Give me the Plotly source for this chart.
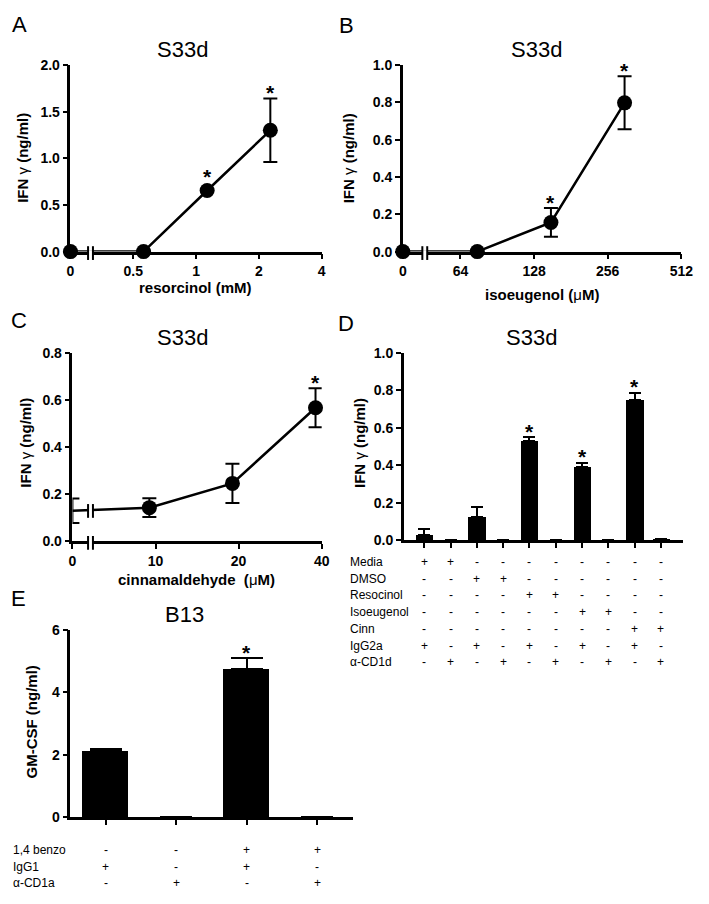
import math
import plotly.graph_objects as go

W, H = 709, 904
FONT = "Arial, 'Liberation Sans', Helvetica, sans-serif"

# ---------------- data ----------------
A_conc = [0, 0.56, 1.13, 2.27]          # resorcinol (mM)
A_ifn = [0.0, 0.0, 0.655, 1.30]
A_err = [0.0, 0.0, 0.0, 0.34]
A_sig = [False, False, True, True]

B_conc = [0, 75, 150, 300]              # isoeugenol (uM)
B_ifn = [0.0, 0.0, 0.156, 0.797]
B_err = [0.0, 0.0, 0.077, 0.142]
B_sig = [False, False, True, True]

C_conc = [0, 9.5, 19, 38]               # cinnamaldehyde (uM)
C_ifn = [0.130, 0.143, 0.246, 0.567]
C_err = [0.052, 0.040, 0.083, 0.083]
C_sig = [False, False, False, True]

D_ifn = [0.031, 0.0, 0.124, 0.0, 0.530, 0.0, 0.391, 0.0, 0.747, 0.005]
D_err = [0.028, 0.0, 0.056, 0.0, 0.021, 0.0, 0.024, 0.0, 0.040, 0.0]
D_sig = [False, False, False, False, True, False, True, False, True, False]
D_rows = ["Media", "DMSO", "Resocinol", "Isoeugenol", "Cinn", "IgG2a", "α-CD1d"]
D_table = [
    ["+", "+", "-", "-", "-", "-", "-", "-", "-", "-"],
    ["-", "-", "+", "+", "-", "-", "-", "-", "-", "-"],
    ["-", "-", "-", "-", "+", "+", "-", "-", "-", "-"],
    ["-", "-", "-", "-", "-", "-", "+", "+", "-", "-"],
    ["-", "-", "-", "-", "-", "-", "-", "-", "+", "+"],
    ["+", "-", "+", "-", "+", "-", "+", "-", "+", "-"],
    ["-", "+", "-", "+", "-", "+", "-", "+", "-", "+"],
]

E_gm = [2.12, 0.0, 4.75, 0.0]
E_err = [0.06, 0.0, 0.34, 0.0]
E_sig = [False, False, True, False]
E_rows = ["1,4 benzo", "IgG1", "α-CD1a"]
E_table = [
    ["-", "-", "+", "+"],
    ["+", "-", "+", "-"],
    ["-", "+", "-", "+"],
]

# display positions of the "0" dose on the broken log axes
A_ZERO, B_ZERO, C_ZERO = 0.25, 37.2, 5.0


def xp(px):
    return px / W


def yp(py):
    return 1 - py / H


def dom_x(l, r):
    return [xp(l), xp(r)]


def dom_y(top, bottom):
    return [yp(bottom), yp(top)]


def nz(errs):
    return [e if e > 0 else None for e in errs]


fig = go.Figure()

axis_style = dict(
    showline=True, linewidth=2.5, linecolor="black",
    ticks="outside", ticklen=5, tickwidth=2, tickcolor="black",
    showgrid=False, zeroline=False,
    tickfont=dict(family=FONT, size=14, color="black", weight="bold"),
)


def add_scatter(idx, conc, vals, errs, zero):
    xs = [zero if c == 0 else c for c in conc]
    fig.add_trace(go.Scatter(
        x=xs, y=vals, mode="lines+markers",
        line=dict(color="black", width=2.5),
        marker=dict(size=15, color="black"),
        error_y=dict(type="data", symmetric=False, array=nz(errs), arrayminus=nz(errs),
                     color="black", thickness=2, width=7),
        cliponaxis=False,
        xaxis="x" if idx == 1 else f"x{idx}",
        yaxis="y" if idx == 1 else f"y{idx}",
    ))
    return xs


def add_bars(idx, vals, errs, capw):
    xs = list(range(len(vals)))
    fig.add_trace(go.Bar(
        x=xs, y=vals, width=0.66,
        marker=dict(color="black", line=dict(width=0)),
        error_y=dict(type="data", symmetric=False, array=nz(errs),
                     arrayminus=[None] * len(vals),
                     color="black", thickness=2, width=capw),
        cliponaxis=False,
        xaxis=f"x{idx}", yaxis=f"y{idx}",
    ))
    return xs


xa = add_scatter(1, A_conc, A_ifn, A_err, A_ZERO)
xb = add_scatter(2, B_conc, B_ifn, B_err, B_ZERO)
xc = add_scatter(3, C_conc, C_ifn, C_err, C_ZERO)
xd = add_bars(4, D_ifn, D_err, 6)
xe = add_bars(5, E_gm, E_err, 16)

# geometry (px) of each plot area: left, right, top, bottom
geo = {
    1: (68, 325, 58, 248),
    2: (408, 693, 58, 248),
    3: (70, 325, 351, 543),
    4: (409, 695, 351, 542),
    5: (68, 357, 633, 824),
}
yr = {1: [0, 2], 2: [0, 1], 3: [0, 0.8], 4: [0, 1], 5: [0, 6]}
ydt = {1: 0.5, 2: 0.2, 3: 0.2, 4: 0.2, 5: 2}
yfmt = {1: ".1f", 2: ".1f", 3: ".1f", 4: ".1f", 5: "d"}

layout = dict(
    width=W, height=H, margin=dict(l=0, r=0, t=0, b=0),
    paper_bgcolor="white", plot_bgcolor="white", showlegend=False,
    bargap=0,
)
for i in range(1, 6):
    l, r, t, b = geo[i]
    xn = "xaxis" if i == 1 else f"xaxis{i}"
    yn = "yaxis" if i == 1 else f"yaxis{i}"
    xanchor = "y" if i == 1 else f"y{i}"
    yanchor = "x" if i == 1 else f"x{i}"
    layout[xn] = dict(axis_style, domain=dom_x(l, r), anchor=xanchor)
    layout[yn] = dict(axis_style, domain=dom_y(t, b), anchor=yanchor,
                      range=yr[i], dtick=ydt[i], tick0=0, tickformat=yfmt[i])

layout["xaxis"].update(type="log", range=[math.log10(A_ZERO), math.log10(4)],
                       tickvals=[A_ZERO, 0.5, 1, 2, 4],
                       ticktext=["0", "0.5", "1", "2", "4"])
layout["xaxis2"].update(type="log", range=[math.log10(B_ZERO), math.log10(512)],
                        tickvals=[B_ZERO, 64, 128, 256, 512],
                        ticktext=["0", "64", "128", "256", "512"])
layout["xaxis3"].update(type="log", range=[math.log10(C_ZERO), math.log10(40)],
                        tickvals=[C_ZERO, 10, 20, 40],
                        ticktext=["0", "10", "20", "40"])
layout["xaxis4"].update(range=[-0.78, 9.85], tickvals=xd, showticklabels=False)
layout["xaxis5"].update(range=[-0.5, 3.51], tickvals=xe, showticklabels=False)
fig.update_layout(**layout)

ann = []


def text(x, y, s, size, bold=False, xanchor="center", angle=0, weight="normal"):
    ann.append(dict(
        x=xp(x), y=yp(y), xref="paper", yref="paper", text=s, showarrow=False,
        xanchor=xanchor, yanchor="middle", textangle=angle,
        font=dict(family=FONT, size=size, color="black",
                  weight="bold" if bold else weight),
    ))


# panel letters
for lab, (x, y) in zip("ABCDE", [(16, 17), (350, 18), (15, 318), (350, 321), (15, 601)]):
    text(x, y, lab, 22)

# titles
text(183, 42, "S33d", 22)
text(545, 42, "S33d", 22)
text(183, 335, "S33d", 22)
text(540, 335, "S33d", 22)
text(185, 617, "B13", 22)

# axis titles
ylab = "<b>IFN </b>γ<b> (ng/ml)</b>"
text(19, 153, ylab, 15, angle=-90)
text(352, 153, ylab, 15, angle=-90)
text(22, 443, ylab, 15, angle=-90)
text(363, 443, ylab, 15, angle=-90)
text(28, 727, "<b>GM-CSF (ng/ml)</b>", 15, angle=-90)
text(196, 285, "<b>resorcinol (mM)</b>", 15)
text(551, 292, "<b>isoeugenol (</b>μ<b>M)</b>", 15)
text(197, 582, "<b>cinnamaldehyde\u00a0\u00a0(</b>μ<b>M)</b>", 15)


# significance asterisks
def stars(idx, xs, vals, errs, sig, logx, marker_r):
    l, r, t, b = geo[idx]
    ppu = (b - t) / (yr[idx][1] - yr[idx][0])
    for x, v, e, s in zip(xs, vals, errs, sig):
        if not s:
            continue
        above = max(e * ppu, marker_r)
        ann.append(dict(
            x=math.log10(x) if logx else x, y=v + e,
            xref="x" if idx == 1 else f"x{idx}",
            yref="y" if idx == 1 else f"y{idx}",
            text="<b>*</b>", showarrow=False, xanchor="center", yanchor="middle",
            yshift=above - e * ppu + 11 - 5,
            font=dict(family=FONT, size=21, color="black"),
        ))


stars(1, xa, A_ifn, A_err, A_sig, True, 7.5)
stars(2, xb, B_ifn, B_err, B_sig, True, 7.5)
stars(3, xc, C_ifn, C_err, C_sig, True, 7.5)
stars(4, xd, D_ifn, D_err, D_sig, False, 0)
stars(5, xe, E_gm, E_err, E_sig, False, 0)

# treatment tables
d_row_y = [564, 581, 598, 615, 632, 649, 666]
for name, row, y in zip(D_rows, D_table, d_row_y):
    text(352, y, name, 12, xanchor="left")
    for x, sym in zip(xd, row):
        ann.append(dict(x=x, y=yp(y), xref="x4", yref="paper", text=sym,
                        showarrow=False, xanchor="center", yanchor="middle",
                        font=dict(family=FONT, size=12, color="black")))

e_row_y = [857, 874, 891]
for name, row, y in zip(E_rows, E_table, e_row_y):
    text(7, y, name, 12, xanchor="left")
    for x, sym in zip(xe, row):
        ann.append(dict(x=x, y=yp(y), xref="x5", yref="paper", text=sym,
                        showarrow=False, xanchor="center", yanchor="middle",
                        font=dict(family=FONT, size=12, color="black")))

fig.update_layout(annotations=ann)

# axis breaks  "||"
shapes = []


def brk(x, y, gap=5, half=7):
    shapes.append(dict(type="rect", xref="paper", yref="paper",
                       x0=xp(x), x1=xp(x + gap), y0=yp(y + 3), y1=yp(y - 3),
                       fillcolor="white", line=dict(width=0), layer="above"))
    for xx in (x, x + gap):
        shapes.append(dict(type="line", xref="paper", yref="paper",
                           x0=xp(xx), x1=xp(xx), y0=yp(y + half), y1=yp(y - half),
                           line=dict(color="black", width=2), layer="above"))


brk(86, 249.5)
brk(428, 249.5)
brk(86, 544.5)
brk(86, 512)
fig.update_layout(shapes=shapes)

POST = """
var s = document.createElement('style');
s.textContent = 'html,body{margin:0;padding:0;overflow:hidden;}';
document.head.appendChild(s);
"""

fig.write_html("out.html", config={"displayModeBar": False}, post_script=POST)
